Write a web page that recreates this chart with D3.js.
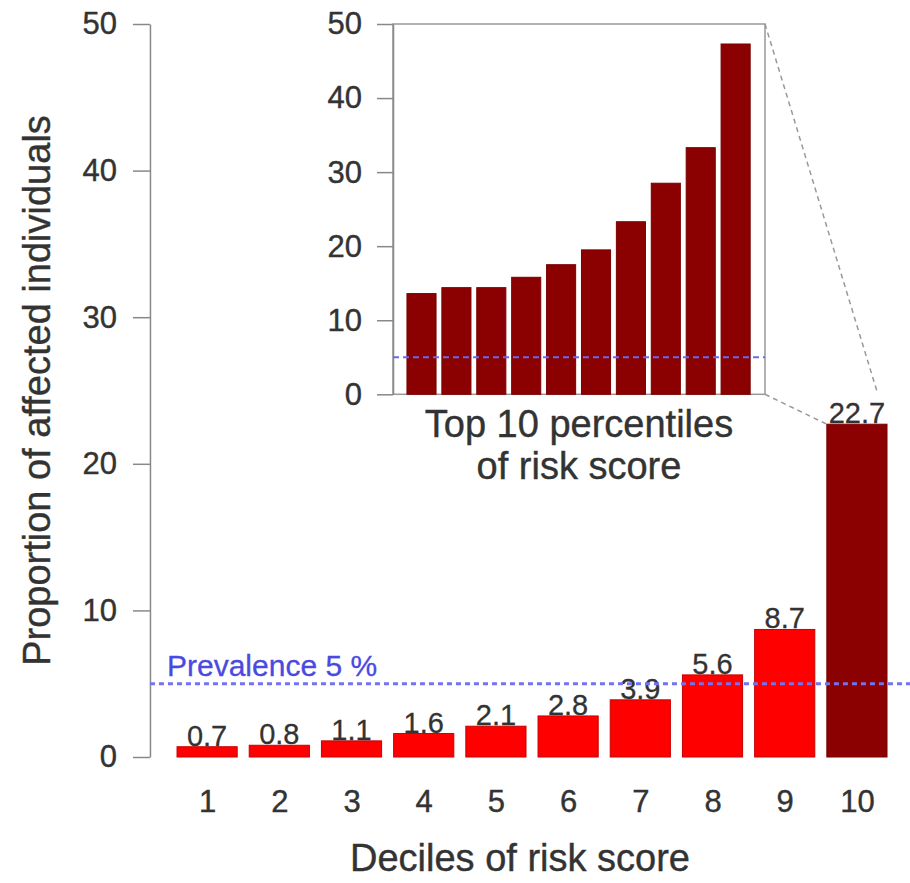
<!DOCTYPE html>
<html>
<head>
<meta charset="utf-8">
<script src="https://cdn.jsdelivr.net/npm/d3@7"></script>
<style>
  body { margin: 0; background: #fff; }
  svg text { font-family: "Liberation Sans", Arial, sans-serif; }
</style>
</head>
<body>
<div id="chart"></div>
<script>
// data
var deciles = ["1", "2", "3", "4", "5", "6", "7", "8", "9", "10"];
var decileRisk = [0.7, 0.8, 1.1, 1.6, 2.1, 2.8, 3.9, 5.6, 8.7, 22.7];
var percentileRisk = [13.6, 14.4, 14.4, 15.8, 17.5, 19.5, 23.3, 28.5, 33.3, 47.3];
var yTicks = [0, 10, 20, 30, 40, 50];
var prevalence = 5;

var width = 910, height = 883;
var space = 0.2; // gap between bars, R barplot style

var svg = d3.select("#chart").append("svg")
    .attr("width", width)
    .attr("height", height);

// ---- main chart scales
var x = d3.scaleLinear().domain([0, 12]).range([165, 887]);
var y = d3.scaleLinear().domain([0, 50]).range([757, 24]);

function barLeft(i) { return space + i * (1 + space); }

// y axis
var yAxis = svg.append("g")
    .attr("transform", "translate(" + x(-0.25) + ",0)")
    .call(d3.axisLeft(y).tickValues(yTicks).tickSize(17).tickSizeOuter(0).tickPadding(16));
yAxis.select(".domain").attr("stroke", "#888").attr("stroke-width", 1.5);
yAxis.selectAll(".tick line").attr("stroke", "#888").attr("stroke-width", 1.5);
yAxis.selectAll(".tick text").attr("fill", "#333").style("font-size", "31px")
    .attr("stroke", "#333").attr("stroke-width", 0.4);

svg.append("text")
    .attr("transform", "rotate(-90)")
    .attr("x", -(y(0) + y(50)) / 2)
    .attr("y", 50)
    .attr("text-anchor", "middle")
    .attr("fill", "#333")
    .attr("stroke", "#333").attr("stroke-width", 0.4)
    .style("font-size", "38px")
    .text("Proportion of affected individuals");

// x labels (no axis line)
var centers = deciles.map(function(d, i) { return barLeft(i) + 0.5; });
var xAxis = svg.append("g")
    .attr("transform", "translate(0," + y(0) + ")")
    .call(d3.axisBottom(x).tickValues(centers).tickSize(0).tickPadding(33)
        .tickFormat(function(d, i) { return deciles[i]; }));
xAxis.select(".domain").remove();
xAxis.selectAll(".tick text").attr("fill", "#333").style("font-size", "31px")
    .attr("stroke", "#333").attr("stroke-width", 0.4);

svg.append("text")
    .attr("x", (x(0) + x(12)) / 2 - 6)
    .attr("y", 871)
    .attr("text-anchor", "middle")
    .attr("fill", "#333")
    .attr("stroke", "#333").attr("stroke-width", 0.4)
    .style("font-size", "38px")
    .text("Deciles of risk score");

// bars
svg.selectAll(".bar")
    .data(decileRisk)
    .enter().append("rect")
    .attr("class", "bar")
    .attr("x", function(d, i) { return x(barLeft(i)); })
    .attr("width", x(1) - x(0))
    .attr("y", function(d) { return y(d); })
    .attr("height", function(d) { return y(0) - y(d); })
    .attr("fill", function(d, i) { return i == 9 ? "#8b0000" : "#ff0000"; })
    .attr("stroke", function(d, i) { return i == 9 ? "#7a0000" : "#c80000"; })
    .attr("stroke-width", 1);

svg.selectAll(".val")
    .data(decileRisk)
    .enter().append("text")
    .attr("class", "val")
    .attr("x", function(d, i) { return x(barLeft(i) + 0.5); })
    .attr("y", function(d) { return y(d) - 1; })
    .attr("text-anchor", "middle")
    .attr("fill", "#333")
    .attr("stroke", "#333").attr("stroke-width", 0.3)
    .style("font-size", "29px")
    .text(function(d) { return d.toFixed(1); });

// prevalence line
svg.append("line")
    .attr("x1", x(-0.25)).attr("x2", x(12.4))
    .attr("y1", y(prevalence)).attr("y2", y(prevalence))
    .attr("stroke", "#7272f2")
    .attr("stroke-width", 3)
    .attr("stroke-dasharray", "5,4");

svg.append("text")
    .attr("x", x(0) + 2)
    .attr("y", y(prevalence) - 8)
    .attr("fill", "#4a4ae0")
    .attr("stroke", "#4a4ae0").attr("stroke-width", 0.3)
    .style("font-size", "30px")
    .text("Prevalence " + prevalence + " %");

// ---- inset: top 10 percentiles
var ix = d3.scaleLinear().domain([-0.28, 12.51]).range([393, 765]);
var iy = d3.scaleLinear().domain([0, 50]).range([394.3, 24]);

svg.append("rect")
    .attr("x", ix(-0.28)).attr("y", iy(50))
    .attr("width", ix(12.51) - ix(-0.28))
    .attr("height", iy(0) - iy(50))
    .attr("fill", "none")
    .attr("stroke", "#999")
    .attr("stroke-width", 1.5);

var iAxis = svg.append("g")
    .attr("transform", "translate(" + ix(-0.28) + ",0)")
    .call(d3.axisLeft(iy).tickValues(yTicks).tickSize(16).tickSizeOuter(0).tickPadding(15));
iAxis.select(".domain").attr("stroke", "#888").attr("stroke-width", 1.5);
iAxis.selectAll(".tick line").attr("stroke", "#888").attr("stroke-width", 1.5);
iAxis.selectAll(".tick text").attr("fill", "#333").style("font-size", "31px")
    .attr("stroke", "#333").attr("stroke-width", 0.4);

svg.selectAll(".ibar")
    .data(percentileRisk)
    .enter().append("rect")
    .attr("class", "ibar")
    .attr("x", function(d, i) { return ix(barLeft(i)); })
    .attr("width", ix(1) - ix(0))
    .attr("y", function(d) { return iy(d); })
    .attr("height", function(d) { return iy(0) - iy(d); })
    .attr("fill", "#8b0000")
    .attr("stroke", "#7a0000")
    .attr("stroke-width", 1);

svg.append("line")
    .attr("x1", ix(-0.28)).attr("x2", ix(12.51))
    .attr("y1", iy(prevalence)).attr("y2", iy(prevalence))
    .attr("stroke", "#6a6af0")
    .attr("stroke-width", 2)
    .attr("stroke-dasharray", "6,4");

var ititle = svg.append("text")
    .attr("x", (ix(-0.28) + ix(12.51)) / 2)
    .attr("text-anchor", "middle")
    .attr("fill", "#333")
    .attr("stroke", "#333").attr("stroke-width", 0.4)
    .style("font-size", "38px");
ititle.append("tspan").attr("x", (ix(-0.28) + ix(12.51)) / 2).attr("y", 437).text("Top 10 percentiles");
ititle.append("tspan").attr("x", (ix(-0.28) + ix(12.51)) / 2).attr("y", 479).text("of risk score");

// zoom connectors from inset box to the top decile bar
var top10 = decileRisk[9];
var ux1 = ix(12.51), uy1 = iy(50), ux2 = x(barLeft(9) + 1), uy2 = y(top10);
var stopY = uy2 - 31; // upper line stops above the value label
svg.append("line")
    .attr("x1", ux1).attr("y1", uy1)
    .attr("x2", ux1 + (ux2 - ux1) * (stopY - uy1) / (uy2 - uy1)).attr("y2", stopY)
    .attr("stroke", "#999").attr("stroke-width", 1.5).attr("stroke-dasharray", "5,4");
svg.append("line")
    .attr("x1", ix(12.51)).attr("y1", iy(0))
    .attr("x2", x(barLeft(9))).attr("y2", y(top10))
    .attr("stroke", "#999").attr("stroke-width", 1.5).attr("stroke-dasharray", "5,4");
</script>
</body>
</html>
